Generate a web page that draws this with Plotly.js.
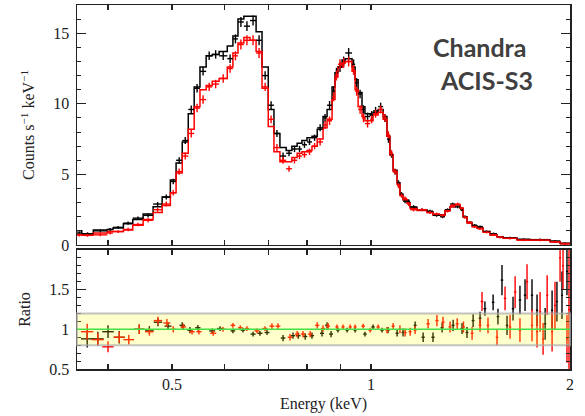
<!DOCTYPE html>
<html><head><meta charset="utf-8">
<script src="https://cdn.plot.ly/plotly-3.0.1.min.js"></script>
<style>html,body{margin:0;padding:0;background:#fff}#plot{width:585px;height:416px}</style>
</head><body><div id="plot"></div>
<script>
// ---- Spectrum bins (keV edges) ----
var binEdges = [0.359,0.365,0.380,0.399,0.407,0.422,0.436,0.452,0.468,0.483,0.497,0.507,0.518,0.529,0.540,0.551,0.563,0.575,0.589,0.606,0.618,0.629,0.642,0.656,0.670,0.684,0.699,0.713,0.728,0.744,0.759,0.773,0.786,0.800,0.814,0.829,0.846,0.858,0.873,0.882,0.891,0.904,0.914,0.936,0.946,0.956,0.969,0.979,0.997,1.007,1.025,1.043,1.057,1.068,1.080,1.095,1.106,1.118,1.134,1.146,1.174,1.215,1.241,1.272,1.294,1.317,1.340,1.364,1.378,1.397,1.422,1.447,1.477,1.514,1.551,1.584,1.663,1.740,1.866,1.932,2.0];
var blackModel = [1.0,0.78,1.06,1.1,1.2,1.5,1.8,2.2,2.7,3.4,
4.6,5.8,7.3,9.3,11.2,12.6,13.4,13.5,13.7,14.1,
14.8,16.0,16.2,16.2,15.1,12.6,9.6,7.9,6.9,6.7,
7.0,7.2,7.4,7.6,7.7,8.2,9.1,9.6,11.2,12.2,
12.6,13.1,13.2,12.6,11.7,10.8,9.8,9.3,9.2,9.4,
9.6,9.1,7.7,6.4,5.3,4.4,3.6,3.2,3.0,2.65,
2.5,2.35,2.15,2.15,2.45,2.7,2.85,2.6,2.0,1.6,
1.35,1.2,0.95,0.72,0.58,0.5,0.38,0.36,0.25,0.12];
var redModel = [0.75,0.7,0.85,0.95,0.95,1.06,1.4,1.8,2.3,2.8,
3.7,5.1,6.5,8.2,9.8,11.0,11.3,11.6,11.8,12.6,
13.6,14.3,14.7,14.5,13.7,11.1,8.4,6.6,5.9,5.9,
6.2,6.5,6.6,6.7,7.0,7.5,8.3,8.9,10.3,11.9,
12.6,12.9,13.0,12.3,11.0,9.8,9.1,8.8,8.8,9.2,
9.4,8.9,7.7,6.4,5.2,4.3,3.5,3.2,2.95,2.6,
2.45,2.3,2.1,2.1,2.45,2.7,2.85,2.6,2.0,1.55,
1.3,1.2,0.92,0.7,0.57,0.48,0.36,0.35,0.23,0.1];
var blackData = [0.85,0.8,1.0,1.1,1.25,1.55,1.9,2.1,2.9,3.4,
4.5,6.0,7.4,9.6,11.1,12.3,13.4,13.5,13.4,13.2,
14.6,15.8,15.5,15.9,14.5,12.0,9.9,7.9,6.3,6.5,
6.8,6.8,7.1,7.3,7.6,8.3,9.0,9.9,10.9,12.2,
12.6,13.0,13.6,12.8,11.5,10.7,9.6,9.1,9.2,9.5,
9.8,9.0,7.5,6.4,5.2,4.4,3.6,3.1,3.1,2.7,
2.5,2.4,2.1,2.0,2.5,2.9,2.7,2.5,2.0,1.6,
1.4,1.3,0.95,0.8,0.55,0.5,0.4,0.38,0.28,0.1];
var redData = [0.7,0.68,0.72,0.85,0.95,1.1,1.45,1.75,2.5,2.9,
3.7,5.2,6.3,7.9,9.7,10.3,11.2,11.4,11.8,12.5,
13.4,14.2,14.5,14.5,13.6,11.2,8.9,6.9,6.0,5.4,
6.0,6.3,6.4,6.6,7.0,7.3,8.5,8.8,10.5,12.0,
12.8,12.9,13.0,12.4,10.9,9.6,9.0,8.6,8.9,9.3,
9.6,9.0,7.8,6.5,5.2,4.2,3.5,3.3,2.9,2.5,
2.5,2.3,2.2,2.1,2.4,2.8,2.9,2.6,1.95,1.6,
1.3,1.15,0.9,0.72,0.55,0.47,0.35,0.35,0.22,0.08];
var countErr = [0.1,0.1,0.1,0.1,0.1,0.12,0.12,0.15,0.15,0.18,
0.2,0.22,0.25,0.28,0.3,0.3,0.3,0.3,0.3,0.3,
0.32,0.35,0.35,0.35,0.35,0.3,0.28,0.25,0.25,0.22,
0.22,0.22,0.22,0.22,0.22,0.25,0.28,0.3,0.32,0.35,
0.35,0.35,0.35,0.35,0.32,0.3,0.3,0.28,0.28,0.28,
0.28,0.28,0.26,0.22,0.2,0.18,0.15,0.14,0.14,0.12,
0.1,0.1,0.1,0.1,0.1,0.1,0.1,0.1,0.1,0.1,
0.08,0.08,0.08,0.08,0.08,0.08,0.08,0.08,0.08,0.08];

// ---- Ratio panel ----
var ratioRedE = [0.372,0.386,0.400,0.416,0.430,0.446,0.462,0.476,0.491,0.502,0.520,0.536,0.549,0.577,0.597,0.618,0.634,0.649,0.672,0.691,0.708,0.723,0.754,0.773,0.789,0.809,0.829,0.846,0.861,0.888,0.907,0.930,0.946,0.973,0.997,1.025,1.057,1.080,1.106,1.126,1.146,1.166,1.220,1.258,1.285,1.317,1.350,1.380,1.422,1.462,1.472,1.503,1.551,1.595,1.623,1.652,1.680,1.722,1.752,1.783,1.802,1.821,1.847,1.879,1.898,1.932,1.952,1.979,1.993];
var ratioRed = [0.97,0.87,0.78,0.90,0.87,1.00,0.97,1.11,1.08,1.00,1.03,0.97,0.97,0.95,1.00,1.05,1.02,1.01,0.98,1.01,1.04,1.04,0.90,0.94,0.94,0.94,1.05,1.01,1.04,1.03,1.03,1.03,1.03,1.04,0.99,1.03,0.99,1.04,1.00,0.96,0.97,0.99,1.07,1.11,1.09,1.03,1.07,1.03,0.95,1.05,1.35,1.05,0.90,1.39,1.03,1.47,0.99,1.60,1.05,0.97,1.22,0.88,1.43,0.97,1.30,1.90,1.80,0.88,1.25];
var ratioRedErr = [0.10,0.08,0.07,0.07,0.06,0.06,0.05,0.05,0.05,0.04,0.04,0.035,0.035,0.03,0.03,0.03,0.03,0.03,0.03,0.03,0.035,0.035,0.04,0.04,0.04,0.04,0.04,0.04,0.04,0.03,0.03,0.03,0.03,0.03,0.03,0.03,0.04,0.04,0.05,0.05,0.05,0.05,0.06,0.07,0.07,0.07,0.07,0.07,0.08,0.08,0.12,0.10,0.10,0.15,0.15,0.20,0.15,0.22,0.20,0.20,0.25,0.20,0.25,0.25,0.30,0.30,0.30,0.30,0.75];
var ratioRedHalfW = [0.008,0.008,0.008,0.008,0.008,0.008,0.007,0.007,0.006,0.005,0.005,0.005,0.005,0.006,0.006,0.005,0.005,0.005,0.006,0.006,0.006,0.006,0.006,0.006,0.006,0.006,0.006,0.006,0.006,0.005,0.005,0.005,0.005,0.006,0.006,0.006,0.006,0.006,0.006,0.006,0.006,0.006,0.007,0.007,0.007,0.007,0.007,0.007,0.007,0.007,0.007,0.007,0.007,0.007,0.007,0.007,0.007,0.007,0.007,0.007,0.007,0.007,0.007,0.007,0.007,0.007,0.007,0.007,0.006];
var ratioBlackE = [0.372,0.386,0.400,0.416,0.446,0.462,0.476,0.493,0.518,0.532,0.547,0.575,0.591,0.618,0.640,0.663,0.679,0.696,0.736,0.762,0.776,0.795,0.814,0.843,0.858,0.870,0.891,0.920,0.946,0.979,1.007,1.039,1.061,1.095,1.118,1.166,1.199,1.241,1.281,1.331,1.373,1.397,1.427,1.462,1.487,1.530,1.556,1.578,1.606,1.640,1.680,1.710,1.752,1.783,1.834,1.879,1.911,1.945,1.979];
var ratioBlack = [0.88,0.88,0.97,0.90,1.00,0.99,1.09,1.04,1.05,0.99,1.02,0.98,1.01,0.98,0.99,0.94,0.95,0.96,0.89,0.92,0.92,0.91,0.92,0.95,1.05,0.94,0.99,0.99,0.99,0.94,1.03,0.99,0.99,0.95,0.96,1.05,0.90,0.90,1.02,1.05,1.01,0.96,1.11,1.14,1.26,1.34,1.16,1.62,1.05,1.26,1.37,1.43,1.43,1.24,1.07,1.24,1.35,1.43,1.73];
var ratioBlackErr = [0.11,0.09,0.08,0.08,0.06,0.05,0.05,0.05,0.04,0.04,0.035,0.03,0.03,0.03,0.03,0.03,0.03,0.03,0.04,0.04,0.04,0.04,0.04,0.04,0.04,0.04,0.03,0.03,0.03,0.03,0.03,0.03,0.04,0.04,0.05,0.05,0.06,0.06,0.06,0.07,0.07,0.07,0.08,0.08,0.09,0.10,0.10,0.19,0.12,0.15,0.18,0.20,0.20,0.20,0.20,0.25,0.25,0.30,0.30];
var ratioBlackHalfW = [0.008,0.008,0.008,0.008,0.008,0.007,0.007,0.006,0.005,0.005,0.005,0.006,0.006,0.005,0.005,0.006,0.006,0.006,0.006,0.006,0.006,0.006,0.006,0.006,0.006,0.006,0.005,0.005,0.005,0.006,0.006,0.006,0.006,0.006,0.006,0.006,0.007,0.007,0.007,0.007,0.007,0.007,0.007,0.007,0.007,0.007,0.007,0.007,0.007,0.007,0.007,0.007,0.007,0.007,0.007,0.007,0.007,0.007,0.007];

var xTickVals = [0.4,0.5,0.6,0.7,0.8,0.9,1,2];
var xTickText = ['','0.5','','','','','1','2'];

// ---- build traces ----
function stepY(v){ return v.concat([v[v.length-1]]); }
var centers = [], hiErr = [], loErr = [];
for (var i=0;i<binEdges.length-1;i++){
  var c = Math.sqrt(binEdges[i]*binEdges[i+1]);
  centers.push(c); hiErr.push(binEdges[i+1]-c); loErr.push(c-binEdges[i]);
}
function dataTrace(y, color, xa, ya){
  return {x:centers, y:y, type:'scatter', mode:'markers', xaxis:xa, yaxis:ya,
    marker:{size:0.1, color:color, opacity:0},
    error_x:{type:'data', symmetric:false, array:hiErr, arrayminus:loErr, color:color, thickness:1.4, width:0},
    error_y:{type:'data', array:countErr, color:color, thickness:1.4, width:0},
    hoverinfo:'skip', showlegend:false};
}
var traces = [
  {x:binEdges, y:stepY(blackModel), type:'scatter', mode:'lines', line:{shape:'hv', color:'#000', width:1.5}, xaxis:'x2', yaxis:'y', showlegend:false},
  {x:binEdges, y:stepY(redModel), type:'scatter', mode:'lines', line:{shape:'hv', color:'#ff0000', width:1.5}, xaxis:'x2', yaxis:'y', showlegend:false},
  dataTrace(blackData, '#000', 'x2', 'y'),
  dataTrace(redData, '#ff0000', 'x2', 'y'),
  {x:ratioBlackE, y:ratioBlack, type:'scatter', mode:'markers', xaxis:'x', yaxis:'y2',
    marker:{size:0.1, opacity:0},
    error_x:{type:'data', array:ratioBlackHalfW, color:'#000', thickness:1.4, width:0},
    error_y:{type:'data', array:ratioBlackErr, color:'#000', thickness:1.4, width:0}, showlegend:false},
  {x:ratioRedE, y:ratioRed, type:'scatter', mode:'markers', xaxis:'x', yaxis:'y2',
    marker:{size:0.1, opacity:0},
    error_x:{type:'data', array:ratioRedHalfW, color:'#ff0000', thickness:1.4, width:0},
    error_y:{type:'data', array:ratioRedErr, color:'#ff0000', thickness:1.4, width:0}, showlegend:false}
];

var serif = 'Liberation Serif, Times New Roman, serif';
var axCommon = {showline:true, linecolor:'#222', linewidth:1.5, mirror:'ticks', ticks:'inside',
  tickcolor:'#222', tickwidth:1.2, showgrid:false, zeroline:false,
  tickfont:{family:serif, size:16, color:'#222'}};
var xRange = [Math.log10(binEdges[0]), Math.log10(2)];

var layout = {
  width:585, height:416, margin:{l:77, r:15, t:5, b:47},
  paper_bgcolor:'#fff', plot_bgcolor:'#fff', showlegend:false,
  font:{family:serif, color:'#222'},
  xaxis: Object.assign({}, axCommon, {type:'log', range:xRange, anchor:'y2', domain:[0,1],
    tickmode:'array', tickvals:xTickVals, ticktext:xTickText, ticklen:5,
    title:{text:'Energy (keV)', font:{family:serif, size:16, color:'#222'}, standoff:6}}),
  xaxis2: Object.assign({}, axCommon, {type:'log', range:xRange, anchor:'y', matches:'x',
    tickmode:'array', tickvals:xTickVals, ticktext:xTickText, ticklen:5, showticklabels:false}),
  yaxis: Object.assign({}, axCommon, {domain:[0.3407,1], anchor:'x2', range:[0,17],
    tickmode:'linear', tick0:0, dtick:5, ticklen:9, ticklabelstandoff:3,
    minor:{dtick:1, ticks:'inside', ticklen:4, tickcolor:'#222', tickwidth:1},
    title:{text:'Counts s<sup>−1</sup> keV<sup>−1</sup>', font:{family:serif, size:16, color:'#222'}, standoff:14}}),
  yaxis2: Object.assign({}, axCommon, {domain:[0,0.327], anchor:'x', range:[0.5,2.0],
    tickmode:'array', tickvals:[0.5,1,1.5], ticktext:['0.5','1','1.5'], ticklen:9, ticklabelstandoff:3,
    minor:{dtick:0.1, tick0:0.5, ticks:'inside', ticklen:4, tickcolor:'#222', tickwidth:1},
    title:{text:'Ratio', font:{family:serif, size:16, color:'#222'}, standoff:14}}),
  shapes:[
    {type:'rect', xref:'x domain', yref:'y2', x0:0, x1:1, y0:0.8, y1:1.2, layer:'above',
      fillcolor:'rgba(255,255,0,0.2)', line:{color:'rgba(170,170,170,0.7)', width:2}},
    {type:'line', xref:'x domain', yref:'y2', x0:0, x1:1, y0:1, y1:1, layer:'above',
      line:{color:'#44e044', width:1.5}}
  ],
  annotations:[
    {text:'<b>Chandra</b>', xref:'paper', yref:'paper', x:0.817, y:0.885, xanchor:'center', yanchor:'middle', showarrow:false,
      font:{family:'Lato, Open Sans, sans-serif', size:25, color:'#404040'}},
    {text:'<b>ACIS-S3</b>', xref:'paper', yref:'paper', x:0.831, y:0.794, xanchor:'center', yanchor:'middle', showarrow:false,
      font:{family:'Lato, Open Sans, sans-serif', size:25, color:'#404040'}}
  ]
};
Plotly.newPlot('plot', traces, layout, {staticPlot:true, displayModeBar:false});
</script></body></html>
